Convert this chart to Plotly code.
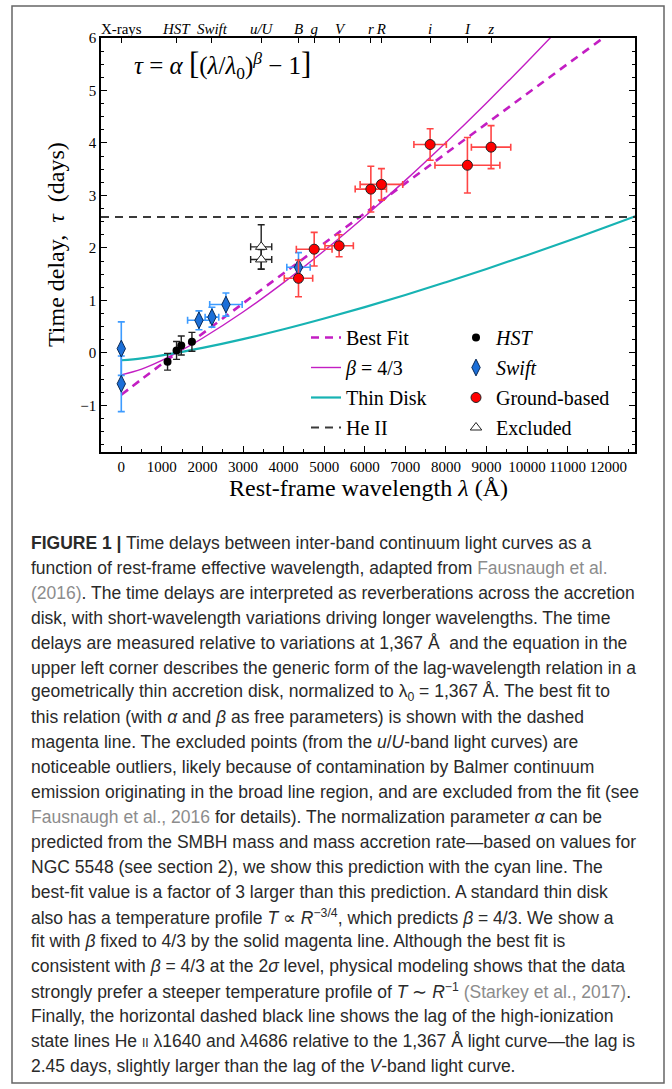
import plotly.graph_objects as go

# ---------------- data ----------------
hst_wl = [1140, 1362, 1478, 1741]
hst_tau = [-0.17, 0.045, 0.14, 0.21]
hst_err = [0.16, 0.17, 0.18, 0.18]

swift_wl = [0, 0, 1914, 2234, 2579, 4367]
swift_tau = [0.08, -0.59, 0.62, 0.68, 0.92, 1.63]
swift_err = [0.51, 0.53, 0.18, 0.19, 0.22, 0.28]
swift_xerr = [0, 0, 280, 168, 400, 288]

ground_wl = [4367, 4754, 5369, 6150, 6411, 7611, 8530, 9113]
ground_tau = [1.42, 1.975, 2.04, 3.12, 3.21, 3.97, 3.575, 3.92]
ground_err = [0.35, 0.32, 0.21, 0.435, 0.30, 0.30, 0.53, 0.41]
ground_xerr = [350, 440, 350, 386, 525, 400, 800, 485]

excl_wl = [3448, 3448]
excl_tau = [2.02, 1.78]
excl_err = [0.42, 0.19]
excl_xerr = [260, 260]

curve_wl = [0, 500, 1000, 1500, 2000, 3000, 4000, 5000, 6000, 7000,
            8000, 9000, 10000, 11000, 12000, 12700]
bestfit_tau = [-0.800, -0.504, -0.213, 0.077, 0.366, 0.942, 1.516, 2.088,
               2.660, 3.230, 3.800, 4.369, 4.937, 5.505, 6.071, 6.468]
beta43_tau = [-0.420, -0.310, -0.143, 0.055, 0.278, 0.778, 1.338, 1.947,
              2.599, 3.287, 4.009, 4.762, 5.544, 6.352, 7.186, 7.783]
thindisk_tau = [-0.141, -0.104, -0.048, 0.019, 0.093, 0.261, 0.449, 0.654,
                0.872, 1.103, 1.346, 1.599, 1.861, 2.132, 2.413, 2.613]
heii_tau = 2.59

x_range = [-500, 12660]
y_range = [-1.89, 6]
x_tickvals = [0, 1000, 2000, 3000, 4000, 5000, 6000, 7000, 8000, 9000,
              10000, 11000, 12000]
x_ticktext = ["0", "1000", "2000", "3000", "4000", "5000", "6000", "7000",
              "8000", "9000", "10000", "11000", "12000"]
y_tickvals = [-1, 0, 1, 2, 3, 4, 5, 6]
band_wl = [0, 1355, 2234, 3448, 4367, 4754, 5377, 6150, 6411, 7611, 8530, 9113]
band_names = ["X-rays", "<i>HST</i>", "<i>Swift</i>", "<i>u/U</i>", "<i>B</i>",
              "<i>g</i>", "<i>V</i>", "<i>r</i>", "<i>R</i>", "<i>i</i>",
              "<i>I</i>", "<i>z</i>"]

# ---------------- layout geometry ----------------
W, H = 672, 1089
ML, MR, MT, MB = 101, 37, 38, 637
PW = W - ML - MR
PH = H - MT - MB
BOT = H - MB


def px(x):
    return (x - ML) / PW


def py(y):
    return (BOT - y) / PH


SERIF = "Liberation Serif, Times New Roman, serif"
MAG = "#c31ec3"
CYAN = "#17b3b3"

fig = go.Figure()

fig.add_trace(go.Scatter(x=curve_wl, y=bestfit_tau, mode="lines", name="Best Fit",
                         line=dict(color=MAG, width=2.6, dash="8px,6px", shape="spline"),
                         legend="legend", legendgroup="a"))
fig.add_trace(go.Scatter(x=curve_wl, y=beta43_tau, mode="lines", name="<i>β</i> = 4/3",
                         line=dict(color=MAG, width=1.4, shape="spline"),
                         legend="legend", legendgroup="b"))
fig.add_trace(go.Scatter(x=curve_wl, y=thindisk_tau, mode="lines", name="Thin Disk",
                         line=dict(color=CYAN, width=2.2, shape="spline"),
                         legend="legend", legendgroup="c"))
fig.add_trace(go.Scatter(x=x_range, y=[heii_tau, heii_tau], mode="lines", name="He II",
                         line=dict(color="#3a3a3a", width=2, dash="8px,6px"),
                         xaxis="x2", legend="legend", legendgroup="d"))

fig.add_trace(go.Scatter(x=hst_wl, y=hst_tau, mode="markers", name="<i>HST</i>",
                         marker=dict(symbol="circle", size=8, color="black"),
                         error_y=dict(type="data", array=hst_err, color="#222",
                                      thickness=1.4, width=3.5),
                         legend="legend2", legendgroup="e"))
fig.add_trace(go.Scatter(x=swift_wl, y=swift_tau, mode="markers", name="<i>Swift</i>",
                         marker=dict(symbol="diamond-tall", size=12, color="#1c6fd8",
                                     line=dict(color="#0b2a55", width=1)),
                         error_y=dict(type="data", array=swift_err, color="#3d9bff",
                                      thickness=1.6, width=3.5),
                         error_x=dict(type="data", array=swift_xerr, color="#3d9bff",
                                      thickness=1.6, width=3.5),
                         legend="legend2", legendgroup="f"))
fig.add_trace(go.Scatter(x=ground_wl, y=ground_tau, mode="markers", name="Ground-based",
                         marker=dict(symbol="circle", size=10, color="#ff0000",
                                     line=dict(color="#222", width=1)),
                         error_y=dict(type="data", array=ground_err, color="#ff4545",
                                      thickness=1.6, width=3.5),
                         error_x=dict(type="data", array=ground_xerr, color="#ff4545",
                                      thickness=1.6, width=3.5),
                         legend="legend2", legendgroup="g"))
fig.add_trace(go.Scatter(x=excl_wl, y=excl_tau, mode="markers", name="Excluded",
                         marker=dict(symbol="triangle-up", size=10, color="white",
                                     line=dict(color="#222", width=1)),
                         error_y=dict(type="data", array=excl_err, color="#222",
                                      thickness=1.4, width=3.5),
                         error_x=dict(type="data", array=excl_xerr, color="#222",
                                      thickness=1.4, width=3.5),
                         legend="legend2", legendgroup="h"))

tickfont = dict(family=SERIF, size=15, color="black")
fig.update_layout(
    width=W, height=H,
    margin=dict(l=ML, r=MR, t=MT, b=MB, pad=0),
    paper_bgcolor="white", plot_bgcolor="white",
    font=dict(family=SERIF, color="black"),
    xaxis=dict(range=x_range, tickmode="array", tickvals=x_tickvals, ticktext=x_ticktext,
               ticks="inside", ticklen=6, tickwidth=1.2, tickcolor="black",
               minor=dict(dtick=500, tick0=0, ticks="inside", ticklen=3, tickcolor="black"),
               showline=True, linewidth=1.6, linecolor="black", mirror=True,
               showgrid=False, zeroline=False, tickfont=tickfont),
    xaxis2=dict(overlaying="x", side="top", matches="x", range=x_range,
                tickmode="array", tickvals=band_wl, ticktext=band_names,
                ticks="inside", ticklen=5, tickwidth=1.2, tickcolor="black",
                showline=False, showgrid=False, zeroline=False, tickfont=tickfont),
    yaxis=dict(range=y_range, tickmode="array", tickvals=y_tickvals,
               ticks="inside", ticklen=6, tickwidth=1.2, tickcolor="black",
               minor=dict(dtick=0.25, tick0=0, ticks="inside", ticklen=3, tickcolor="black"),
               showline=True, linewidth=1.6, linecolor="black", mirror="ticks",
               showgrid=False, zeroline=False, tickfont=tickfont),
    legend=dict(x=px(306), y=py(318), xanchor="left", yanchor="top",
                bgcolor="rgba(0,0,0,0)", font=dict(family=SERIF, size=20),
                tracegroupgap=1, itemwidth=30),
    legend2=dict(x=px(456), y=py(318), xanchor="left", yanchor="top",
                 bgcolor="rgba(0,0,0,0)", font=dict(family=SERIF, size=20),
                 tracegroupgap=1, itemwidth=30),
    showlegend=True,
)

ann = []
# equation
ann.append(dict(x=px(132), y=py(65), xref="paper", yref="paper", xanchor="left",
                yanchor="middle", showarrow=False,
                text="<i>τ</i> = <i>α</i> <span style='font-size:31px'>[</span>(<i>λ</i>/<i>λ</i><sub>0</sub>)"
                     "<sup><i>β</i></sup> − 1<span style='font-size:31px'>]</span>",
                font=dict(family=SERIF, size=25, color="black")))
# axis titles
ann.append(dict(x=px(368), y=py(488), xref="paper", yref="paper", xanchor="center",
                yanchor="middle", showarrow=False,
                text="Rest-frame wavelength <i>λ</i> (Å)",
                font=dict(family=SERIF, size=24, color="black")))
ann.append(dict(x=px(56), y=py(245), xref="paper", yref="paper", xanchor="center",
                yanchor="middle", showarrow=False, textangle=-90,
                text="Time delay,  <i>τ</i>  (days)",
                font=dict(family=SERIF, size=24, color="black")))

GRAY = "#8c8c8c"
cap_lines = [
    "<b>FIGURE 1 |</b> Time delays between inter-band continuum light curves as a",
    f"function of rest-frame effective wavelength, adapted from <span style='color:{GRAY}'>Fausnaugh et al.</span>",
    f"<span style='color:{GRAY}'>(2016)</span>. The time delays are interpreted as reverberations across the accretion",
    "disk, with short-wavelength variations driving longer wavelengths. The time",
    "delays are measured relative to variations at 1,367 Å  and the equation in the",
    "upper left corner describes the generic form of the lag-wavelength relation in a",
    "geometrically thin accretion disk, normalized to λ<sub>0</sub> = 1,367 Å. The best fit to",
    "this relation (with <i>α</i> and <i>β</i> as free parameters) is shown with the dashed",
    "magenta line. The excluded points (from the <i>u</i>/<i>U</i>-band light curves) are",
    "noticeable outliers, likely because of contamination by Balmer continuum",
    "emission originating in the broad line region, and are excluded from the fit (see",
    f"<span style='color:{GRAY}'>Fausnaugh et al., 2016</span> for details). The normalization parameter <i>α</i> can be",
    "predicted from the SMBH mass and mass accretion rate—based on values for",
    "NGC 5548 (see section 2), we show this prediction with the cyan line. The",
    "best-fit value is a factor of 3 larger than this prediction. A standard thin disk",
    "also has a temperature profile <i>T</i> ∝ <i>R</i><sup>−3/4</sup>, which predicts <i>β</i> = 4/3. We show a",
    "fit with <i>β</i> fixed to 4/3 by the solid magenta line. Although the best fit is",
    "consistent with <i>β</i> = 4/3 at the 2<i>σ</i> level, physical modeling shows that the data",
    f"strongly prefer a steeper temperature profile of <i>T</i> ∼ <i>R</i><sup>−1</sup> <span style='color:{GRAY}'>(Starkey et al., 2017)</span>.",
    "Finally, the horizontal dashed black line shows the lag of the high-ionization",
    "state lines He <span style='font-size:12px'>II</span> λ1640 and λ4686 relative to the 1,367 Å light curve—the lag is",
    "2.45 days, slightly larger than the lag of the <i>V</i>-band light curve.",
]
for i, t in enumerate(cap_lines):
    ann.append(dict(x=px(29), y=py(543 + i * 24.9), xref="paper", yref="paper",
                    xanchor="left", yanchor="middle", showarrow=False, text=t,
                    font=dict(family="Liberation Sans, Arial, sans-serif",
                              size=17.5, color="#2a2a2a")))
fig.update_layout(annotations=ann)

fig.add_shape(type="rect", xref="paper", yref="paper", x0=px(12), x1=px(664),
              y0=py(1083), y1=py(6), line=dict(color="#666", width=1.5),
              fillcolor="rgba(0,0,0,0)", layer="below")

fig.write_html("out.html", config={"displayModeBar": False},
               post_script="document.body.style.margin='0';document.body.style.overflow='hidden';")
